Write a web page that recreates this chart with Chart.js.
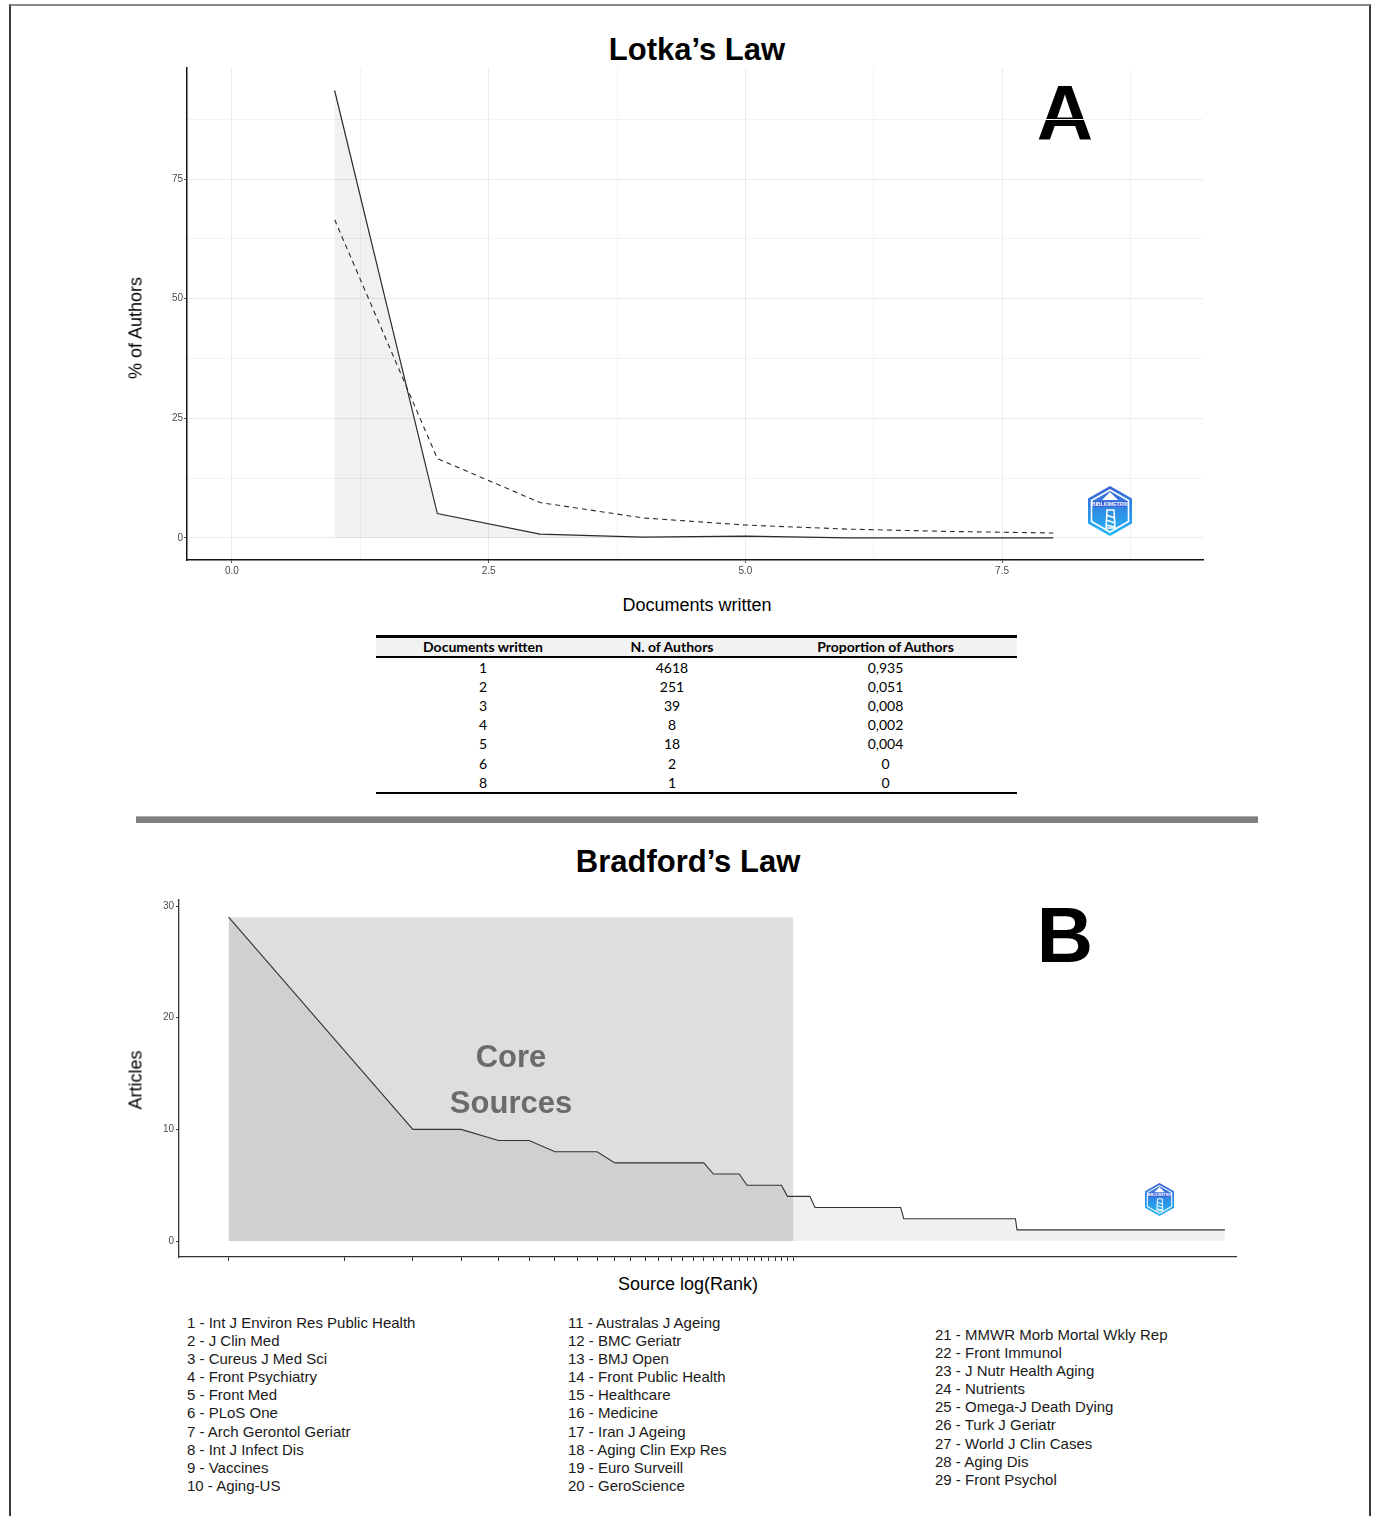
<!DOCTYPE html>
<html lang="en">
<head>
    <meta charset=utf-8>
    <title>Lotka and Bradford</title>
    <script src="https://cdn.jsdelivr.net/npm/chart.js@4.4.1/dist/chart.umd.min.js"></script>
    <style>
        body { margin: 0; width: 1377px; height: 1516px; background: #fff; position: relative; overflow: hidden;
               font-family: "Liberation Sans", Arial, sans-serif; color: #000; }
        .abs { position: absolute; }
        #frame { left: 9px; top: 4px; width: 1358px; height: 1600px; border-left: 2px solid #3a3a3a;
                 border-right: 2px solid #3a3a3a; border-top: 2px solid #8a8a8a; }
        .title { font-weight: bold; font-size: 31px; transform: translate(-50%, -50%); white-space: nowrap; }
        .letter { font-weight: bold; font-size: 78px; transform: translate(-50%, -50%); }
        .axtitle { font-size: 18px; transform: translate(-50%, -50%); white-space: nowrap; }
        .rot { transform: translate(-50%, -50%) rotate(-90deg); }
        #tbl { left: 376px; top: 635px; width: 641px; border-collapse: collapse;
               font-family: Lato, "Open Sans", sans-serif; font-size: 14px; }
        #tbl th { background: #f2f2f2; font-weight: bold; height: 18px; padding: 0; border-top: 3px solid #000;
                  border-bottom: 2px solid #000; line-height: 18px; }
        #tbl td { text-align: center; height: 19.1px; padding: 0; line-height: 19px; }
        #tbl tr:last-child td { border-bottom: 2px solid #000; }
        #sep { left: 136px; top: 816px; width: 1122px; height: 6px; background: #808080; border-top: 1px solid #b0b0b0; }
        .core { font-weight: bold; font-size: 31px; color: #6b6b6b; transform: translate(-50%, -50%); }
        .leg { font-size: 15px; line-height: 18.1px; color: #1a1a1a; white-space: pre; }
    </style>
</head>
<body>
<div id="frame" class="abs"></div>

<div class="abs title" style="left:697px; top:50px">Lotka’s Law</div>
<div class="abs letter" style="left:1065px; top:113px">A</div>
<canvas id="lotka" class="abs" width="1080" height="530" style="left:140px; top:60px"></canvas>
<div class="abs axtitle rot" style="left:136px; top:328px">% of Authors</div>
<div class="abs axtitle" style="left:697px; top:605px">Documents written</div>
<svg class="abs logo" style="left:1088px; top:486px" width="44" height="50" viewBox="0 0 44 50"></svg>

<table id="tbl" class="abs"></table>
<div id="sep" class="abs"></div>

<div class="abs title" style="left:688px; top:862px">Bradford’s Law</div>
<div class="abs letter" style="left:1065px; top:935px">B</div>
<canvas id="bradford" class="abs" width="1110" height="380" style="left:140px; top:890px"></canvas>
<div class="abs core" style="left:511px; top:1057px">Core</div>
<div class="abs core" style="left:511px; top:1103px">Sources</div>
<div class="abs axtitle rot" style="left:136px; top:1080px">Articles</div>
<div class="abs axtitle" style="left:688px; top:1284px">Source log(Rank)</div>
<svg class="abs logo" style="left:1145px; top:1183px" width="29" height="33" viewBox="0 0 44 50"></svg>

<div id="leg1" class="abs leg" style="left:187px; top:1314px"></div>
<div id="leg2" class="abs leg" style="left:568px; top:1314px"></div>
<div id="leg3" class="abs leg" style="left:935px; top:1326px"></div>

<script>
    // Lotka table / curve
    var docsWritten = [1, 2, 3, 4, 5, 6, 8];
    var nAuthors = [4618, 251, 39, 8, 18, 2, 1];
    var propAuthors = ['0,935', '0,051', '0,008', '0,002', '0,004', '0', '0'];
    var pctObserved = [93.5, 5.1, 0.8, 0.2, 0.4, 0.04, 0.02];
    var theoDocs = [1, 2, 3, 4, 5, 6, 7, 8];
    var pctTheoretical = [66.5, 16.6, 7.4, 4.2, 2.7, 1.85, 1.36, 1.04];
    var lotkaXLabels = [0, 2.5, 5, 7.5];
    var lotkaYLabels = [0, 25, 50, 75];

    // Bradford: points where the step curve changes (rank, articles)
    var sourceRank = [1, 2, 3, 4, 5, 6, 7, 9, 10, 17, 18, 21, 22, 27, 28, 32, 33, 55, 56, 109, 110, 380];
    var sourceArticles = [29, 17, 10, 10, 9, 9, 8, 8, 7, 7, 6, 6, 5, 5, 4, 4, 3, 3, 2, 2, 1, 1];
    var coreRanks = [1, 29];
    var coreTop = 29;
    var bradfordYLabels = [0, 10, 20, 30];
    var sourceNames = [
        'Int J Environ Res Public Health', 'J Clin Med', 'Cureus J Med Sci', 'Front Psychiatry', 'Front Med',
        'PLoS One', 'Arch Gerontol Geriatr', 'Int J Infect Dis', 'Vaccines', 'Aging-US',
        'Australas J Ageing', 'BMC Geriatr', 'BMJ Open', 'Front Public Health', 'Healthcare',
        'Medicine', 'Iran J Ageing', 'Aging Clin Exp Res', 'Euro Surveill', 'GeroScience',
        'MMWR Morb Mortal Wkly Rep', 'Front Immunol', 'J Nutr Health Aging', 'Nutrients', 'Omega-J Death Dying',
        'Turk J Geriatr', 'World J Clin Cases', 'Aging Dis', 'Front Psychol'
    ];

    Chart.defaults.font.family = '"Liberation Sans", Arial, sans-serif';
    Chart.defaults.animation = false;

    // table
    var tbl = document.getElementById('tbl');
    var html = '<tr><th>Documents written</th><th>N. of Authors</th><th>Proportion of Authors</th></tr>';
    docsWritten.forEach(function (d, i) {
        html += '<tr><td style="width:214px">' + d + '</td><td style="width:164px">' + nAuthors[i] +
            '</td><td>' + propAuthors[i] + '</td></tr>';
    });
    tbl.innerHTML = html;

    // legend columns
    function legText(from, to) {
        var s = [];
        for (var i = from; i < to; i++) s.push((i + 1) + ' - ' + sourceNames[i]);
        return s.join('\n');
    }
    document.getElementById('leg1').textContent = legText(0, 10);
    document.getElementById('leg2').textContent = legText(10, 20);
    document.getElementById('leg3').textContent = legText(20, 29);

    // logos
    var logo = '<defs><linearGradient id="g" x1="0" y1="0" x2="0" y2="1">' +
        '<stop offset="0" stop-color="#3b62d6"/><stop offset="1" stop-color="#22b8f6"/></linearGradient></defs>' +
        '<polygon points="22,0 44,12.5 44,37.5 22,50 0,37.5 0,12.5" fill="url(#g)"/>' +
        '<polygon points="22,4 40.5,14.5 40.5,35.5 22,46 3.5,35.5 3.5,14.5" fill="none" stroke="#fff" stroke-width="1.6"/>' +
        '<polygon points="22,6 30,14 14,14" fill="#fff"/>' +
        '<rect x="5" y="15" width="34" height="6" fill="#3b62d6"/>' +
        '<text x="22" y="20" font-size="5" font-weight="bold" fill="#fff" text-anchor="middle" font-family="Liberation Sans">BIBLIOMETRIX</text>' +
        '<path d="M19 24 h7 l1 18 h-9 z" fill="none" stroke="#fff" stroke-width="1.5"/>' +
        '<path d="M18 29 l9 3 M18 34 l9 3 M18 39 l9 2" stroke="#fff" stroke-width="1.5"/>';
    Array.prototype.slice.call(document.querySelectorAll('.logo')).forEach(function (el) {
        el.innerHTML = logo;
    });

    var tickFont = {size: 10};
    var tickGray = '#4d4d4d';

    function isIn(list, v) {
        return list.some(function (t) { return Math.abs(t - v) < 1e-6; });
    }

    // ---- Lotka ----
    new Chart(document.getElementById('lotka').getContext('2d'), {
        type: 'line',
        data: {
            datasets: [
                {
                    data: docsWritten.map(function (d, i) { return {x: d, y: pctObserved[i]}; }),
                    borderColor: '#2b2b2b',
                    borderWidth: 1.2,
                    backgroundColor: 'rgba(0,0,0,0.055)',
                    fill: 'origin',
                    pointRadius: 0,
                    tension: 0
                },
                {
                    data: theoDocs.map(function (d, i) { return {x: d, y: pctTheoretical[i]}; }),
                    borderColor: '#2b2b2b',
                    borderWidth: 1.1,
                    borderDash: [5, 4],
                    fill: false,
                    pointRadius: 0,
                    tension: 0
                }
            ]
        },
        options: {
            responsive: false,
            devicePixelRatio: 1,
            layout: {padding: {top: 8, right: 17, left: 0, bottom: 0}},
            plugins: {legend: {display: false}, tooltip: {enabled: false}},
            scales: {
                x: {
                    type: 'linear', min: -0.438, max: 9.457,
                    afterBuildTicks: function (s) {
                        var t = [];
                        for (var v = 0; v < 9.4; v += 1.25) t.push({value: v});
                        s.ticks = t;
                    },
                    afterFit: function (s) { s.height = 30; },
                    ticks: {
                        autoSkip: false, maxRotation: 0, font: tickFont, color: tickGray, padding: 2,
                        callback: function (v) { return isIn(lotkaXLabels, v) ? v.toFixed(1) : ''; }
                    },
                    grid: {
                        color: function (c) { return isIn(lotkaXLabels, c.tick.value) ? '#ebebeb' : '#f3f3f3'; },
                        tickColor: function (c) { return isIn(lotkaXLabels, c.tick.value) ? '#555' : 'rgba(0,0,0,0)'; },
                        tickLength: 3
                    },
                    border: {color: '#111', width: 1.5}
                },
                y: {
                    min: -4.6, max: 98.2,
                    afterBuildTicks: function (s) {
                        var t = [];
                        for (var v = 0; v < 95; v += 12.5) t.push({value: v});
                        s.ticks = t;
                    },
                    afterFit: function (s) { s.width = 47; },
                    ticks: {
                        autoSkip: false, font: tickFont, color: tickGray, padding: 1,
                        callback: function (v) { return isIn(lotkaYLabels, v) ? String(v) : ''; }
                    },
                    grid: {
                        color: function (c) { return isIn(lotkaYLabels, c.tick.value) ? '#ebebeb' : '#f3f3f3'; },
                        tickColor: function (c) { return isIn(lotkaYLabels, c.tick.value) ? '#555' : 'rgba(0,0,0,0)'; },
                        tickLength: 3
                    },
                    border: {color: '#111', width: 1.5}
                }
            }
        }
    });

    // ---- Bradford ----
    var rankTicks = [];
    for (var r = 1; r <= 29; r++) rankTicks.push(r);
    var rankMin = 0.744, rankMax = 406;

    new Chart(document.getElementById('bradford').getContext('2d'), {
        type: 'line',
        data: {
            datasets: [
                {
                    data: sourceRank.map(function (r, i) { return {x: r, y: sourceArticles[i]}; }),
                    borderColor: '#333',
                    borderWidth: 1.1,
                    backgroundColor: 'rgba(0,0,0,0.06)',
                    fill: 'origin',
                    pointRadius: 0,
                    tension: 0,
                    order: 1
                },
                {
                    data: coreRanks.map(function (r) { return {x: r, y: coreTop}; }),
                    borderWidth: 0,
                    borderColor: 'rgba(0,0,0,0)',
                    backgroundColor: '#dedede',
                    fill: 'origin',
                    pointRadius: 0,
                    order: 2
                }
            ]
        },
        options: {
            responsive: false,
            devicePixelRatio: 1,
            layout: {padding: {top: 10, right: 14, left: 0, bottom: 0}},
            plugins: {legend: {display: false}, tooltip: {enabled: false}},
            scales: {
                x: {
                    type: 'logarithmic', min: rankMin, max: rankMax,
                    afterBuildTicks: function (s) {
                        // log scale rounds the min to 0.7; put it back
                        s.min = rankMin;
                        s.max = rankMax;
                        s.ticks = rankTicks.map(function (v) { return {value: v}; });
                    },
                    afterFit: function (s) { s.height = 13; },
                    ticks: {autoSkip: false, maxRotation: 0, font: tickFont, callback: function () { return ''; }},
                    grid: {drawOnChartArea: false, tickColor: '#333', tickLength: 4},
                    border: {color: '#333', width: 1.3}
                },
                y: {
                    min: -1.43, max: 30.54,
                    afterBuildTicks: function (s) {
                        s.ticks = bradfordYLabels.map(function (v) { return {value: v}; });
                    },
                    afterFit: function (s) { s.width = 39; },
                    ticks: {autoSkip: false, font: tickFont, color: tickGray, padding: 2},
                    grid: {drawOnChartArea: false, tickColor: '#333', tickLength: 3},
                    border: {color: '#333', width: 1.3}
                }
            }
        }
    });
</script>
</body>
</html>
